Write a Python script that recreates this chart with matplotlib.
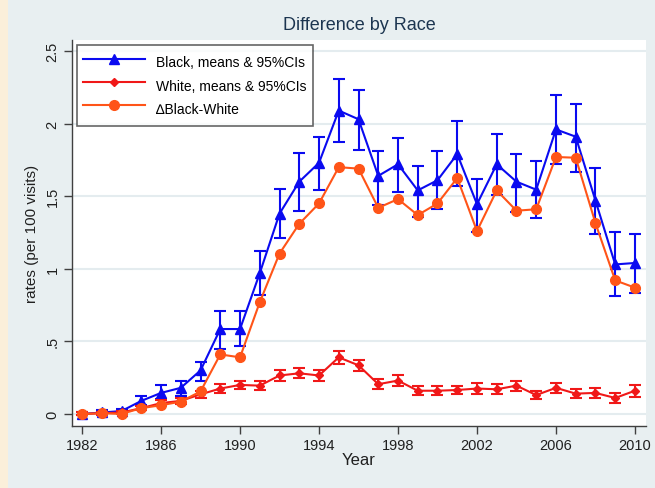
import numpy as np
import matplotlib
matplotlib.use("Agg")
import matplotlib.pyplot as plt
from matplotlib.patches import Rectangle
from matplotlib.lines import Line2D

plt.rcParams['font.family'] = ['Liberation Sans', 'DejaVu Sans']

years = list(range(1982, 2011))

black_mean = [0.00, 0.01, 0.02, 0.09, 0.145, 0.18, 0.30, 0.585, 0.585, 0.97,
              1.38, 1.60, 1.73, 2.09, 2.03, 1.64, 1.72, 1.54, 1.61, 1.79,
              1.445, 1.72, 1.60, 1.545, 1.96, 1.91, 1.47, 1.03, 1.04]
black_hi = [0.01, 0.025, 0.035, 0.125, 0.20, 0.23, 0.36, 0.71, 0.71, 1.12,
            1.55, 1.80, 1.91, 2.31, 2.23, 1.81, 1.90, 1.71, 1.81, 2.015,
            1.62, 1.93, 1.79, 1.74, 2.20, 2.135, 1.695, 1.25, 1.24]
black_lo = [-0.01, -0.005, 0.005, 0.065, 0.10, 0.125, 0.23, 0.45, 0.47, 0.82,
            1.21, 1.40, 1.54, 1.87, 1.82, 1.44, 1.53, 1.36, 1.41, 1.57,
            1.255, 1.51, 1.39, 1.35, 1.72, 1.67, 1.24, 0.81, 0.83]

white_mean = [0.00, 0.005, 0.01, 0.04, 0.075, 0.09, 0.135, 0.175, 0.20, 0.195,
              0.265, 0.28, 0.265, 0.39, 0.335, 0.205, 0.23, 0.16, 0.16, 0.165,
              0.175, 0.17, 0.195, 0.13, 0.18, 0.14, 0.145, 0.11, 0.16]
white_err = [0.01, 0.01, 0.012, 0.015, 0.02, 0.02, 0.025, 0.03, 0.03, 0.03,
             0.035, 0.035, 0.035, 0.045, 0.04, 0.035, 0.035, 0.03, 0.03, 0.03,
             0.035, 0.035, 0.035, 0.03, 0.035, 0.03, 0.035, 0.035, 0.04]

diff = [0.00, 0.005, 0.00, 0.04, 0.06, 0.085, 0.155, 0.41, 0.39, 0.77,
        1.105, 1.31, 1.45, 1.70, 1.69, 1.42, 1.48, 1.37, 1.45, 1.625,
        1.26, 1.54, 1.40, 1.41, 1.77, 1.765, 1.315, 0.92, 0.87]

series_labels = ['Black, means & 95%CIs', 'White, means & 95%CIs',
                 '\u2206Black-White']
x_ticks = [1982, 1986, 1990, 1994, 1998, 2002, 2006, 2010]
y_ticks = [0, 0.5, 1, 1.5, 2, 2.5]
y_labels = ['0', '.5', '1', '1.5', '2', '2.5']

BLUE = '#0a0af0'
RED = '#f01818'
ORANGE = '#ff5418'
BG = '#e8eff1'
AXC = '#404040'

fig = plt.figure(figsize=(6.55, 4.89), dpi=100, facecolor=BG)
# beige strip down the left edge
fig.patches.append(Rectangle((0, 0), 8 / 655, 1, transform=fig.transFigure,
                             facecolor='#fbefda', edgecolor='none', zorder=0))

ax = fig.add_axes([72 / 655, (489 - 427) / 489, 574 / 655, 386 / 489])
ax.set_facecolor('white')

b_mean = np.array(black_mean)
b_err = [b_mean - np.array(black_lo), np.array(black_hi) - b_mean]

ax.errorbar(years, black_mean, yerr=b_err, color=BLUE, lw=1.5, marker='^',
            ms=7.5, capsize=4, capthick=1.5, elinewidth=1.5, zorder=3)
ax.errorbar(years, white_mean, yerr=white_err, color=RED, lw=1.5, marker='D',
            ms=4.5, capsize=4, capthick=1.5, elinewidth=1.5, zorder=4)
ax.plot(years, diff, color=ORANGE, lw=1.5, marker='o', ms=7, zorder=5)

ax.set_xlim(1981.49, 2010.56)
ax.set_ylim(-0.083, 2.576)
ax.set_xticks(x_ticks)
ax.set_yticks(y_ticks)
ax.set_yticklabels(y_labels, rotation=90, va='center')

ax.yaxis.grid(True, color='#e4ecef', lw=1.5)
ax.set_axisbelow(True)

for side in ('top', 'right'):
    ax.spines[side].set_visible(False)
for side in ('left', 'bottom'):
    ax.spines[side].set_color(AXC)
    ax.spines[side].set_linewidth(1.0)

ax.tick_params(axis='both', direction='out', length=6, width=1, color=AXC,
               labelsize=10.5, labelcolor='#202020', pad=3)

ax.set_xlabel('Year', fontsize=12, color='#202020', labelpad=0)
ax.set_ylabel('rates (per 100 visits)', fontsize=11, color='#202020', labelpad=5)
ax.set_title('Difference by Race', fontsize=13, color='#1c3550', pad=8)

handles = [
    Line2D([], [], color=BLUE, lw=1.5, marker='^', ms=7.5),
    Line2D([], [], color=RED, lw=1.5, marker='D', ms=4.5),
    Line2D([], [], color=ORANGE, lw=1.5, marker='o', ms=7),
]
leg = ax.legend(handles, series_labels, loc='upper left',
                bbox_to_anchor=(0.008, 0.987), fontsize=10,
                frameon=True, fancybox=False, handlelength=4.5,
                handleheight=2.0, borderpad=0.45, labelspacing=0.13,
                handletextpad=0.8, borderaxespad=0)
leg.get_frame().set_edgecolor('#404040')
leg.get_frame().set_linewidth(1.2)

fig.savefig('out.png', dpi=100, facecolor=BG)
